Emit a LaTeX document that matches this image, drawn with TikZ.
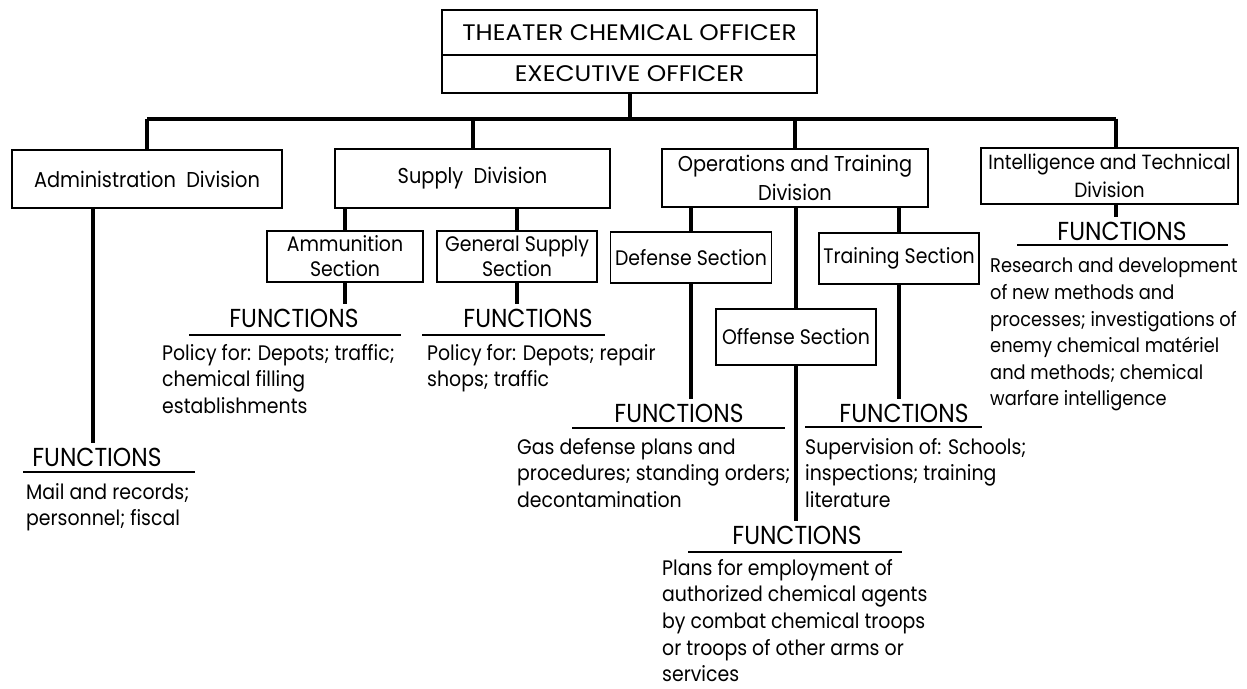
\documentclass[tikz,border=0pt]{standalone}
\usepackage{fontspec}
\setmainfont[FakeStretch=0.9]{Poppins}
\newfontfamily\capsfont[FakeStretch=1.1]{Poppins}
\newcommand{\fz}[2]{\fontsize{#1}{#2}\selectfont}
\begin{document}
\begin{tikzpicture}[x=1pt,y=-1pt,
  box/.style={draw, line width=1.6pt, inner sep=0pt, align=center},
  conn/.style={line width=4pt},
  ul/.style={line width=1.8pt},
  fn/.style={inner sep=0pt, outer ysep=5pt, font=\fz{26}{26}},
  body/.style={inner sep=0pt, align=left, anchor=north west, font=\fz{21}{26.6}},
  divtext/.style={font=\fz{21.5}{28.5}},
  sectext/.style={font=\fz{21}{25}}]
\useasboundingbox (0,0) rectangle (1247,688);
% top
\node[box, minimum width=375pt, minimum height=45pt, font=\capsfont\fz{22.5}{24}] (tco) at (629.5,32.5) {THEATER CHEMICAL OFFICER};
\node[box, minimum width=375pt, minimum height=38pt, font=\capsfont\fz{22.5}{24}] (exec) at (629.5,74) {EXECUTIVE OFFICER};
% divisions
\node[box, divtext, minimum width=270pt, minimum height=58pt] (adm) at (147,179) {Administration\ \ Division};
\node[box, divtext, minimum width=275pt, minimum height=59pt] (sup) at (472.5,178.5) {Supply\ \ Division};
\node[box, divtext, minimum width=266pt, minimum height=58pt] (ops) at (795,178) {Operations and Training\\Division};
\node[box, minimum width=257pt, minimum height=56pt, font=\fz{20.5}{28.5}] (int) at (1109.5,176) {Intelligence and Technical\\Division};
% sections
\node[box, sectext, minimum width=156pt, minimum height=51pt] (amm) at (345,256.5) {Ammunition\\Section};
\node[box, sectext, minimum width=160pt, minimum height=51pt] (gen) at (517,256.5) {General Supply\\Section};
\node[box, sectext, minimum width=161pt, minimum height=51pt] (def) at (691,257.5) {Defense Section};
\node[box, sectext, minimum width=160pt, minimum height=51pt] (trn) at (899,258.5) {Training Section};
\node[box, sectext, minimum width=160pt, minimum height=56pt] (off) at (796,337) {Offense Section};
% helper coordinates
\coordinate (barY) at (0,118.5);
\coordinate (admX) at (93,0);
\coordinate (intX) at (1116,0);
% trunk and bar
\draw[conn] (exec.south) -- (exec.south |- barY);
\draw[conn] (adm.north |- barY) -- (intX |- barY);
\draw[conn] (adm.north |- barY) -- (adm.north);
\draw[conn] (sup.north |- barY) -- (sup.north);
\draw[conn] (ops.north |- barY) -- (ops.north);
\draw[conn] (intX |- barY) -- (intX |- int.north);
% FUNCTIONS headings
\node[fn] (fadm) at (97,457) {FUNCTIONS};
\node[fn] (famm) at (294,318) {FUNCTIONS};
\node[fn] (fgen) at (528,318) {FUNCTIONS};
\node[fn] (fdef) at (679,413) {FUNCTIONS};
\node[fn] (ftrn) at (904,413) {FUNCTIONS};
\node[fn] (foff) at (797,535) {FUNCTIONS};
\node[fn] (fint) at (1122,231) {FUNCTIONS};
% underlines
\draw[ul] (23,472) -- (195,472);
\draw[ul] (189,335) -- (401,335);
\draw[ul] (422,335) -- (605,335);
\draw[ul] (572,428) -- (785,428);
\draw[ul] (805,427) -- (982,427);
\draw[ul] (688,552) -- (902,552);
\draw[ul] (1017,245) -- (1228,245);
% lower connectors
\draw[conn] (adm.south -| admX) -- (fadm.north -| admX);
\draw[conn] (amm.north |- sup.south) -- (amm.north);
\draw[conn] (gen.north |- sup.south) -- (gen.north);
\draw[conn] (amm.south) -- (amm.south |- famm.north);
\draw[conn] (gen.south) -- (gen.south |- fgen.north);
\draw[conn] (def.north |- ops.south) -- (def.north);
\draw[conn] (trn.north |- ops.south) -- (trn.north);
\draw[conn] (off.north |- ops.south) -- (off.north);
\draw[conn] (def.south) -- (def.south |- fdef.north);
\draw[conn] (trn.south) -- (trn.south |- ftrn.north);
\draw[conn] (off.south) -- (off.south |- foff.north);
\draw[conn] (intX |- int.south) -- (intX |- fint.north);
% function texts
\node[body] (tadm) at (26,483) {Mail and records;\\personnel; fiscal};
\node[body] (tamm) at (162,344) {Policy for: Depots; traffic;\\chemical filling\\establishments};
\node[body] (tgen) at (427,344) {Policy for: Depots; repair\\shops; traffic};
\node[body] (tdef) at (517,438) {Gas defense plans and\\procedures; standing orders;\\decontamination};
\node[body] (ttrn) at (805,438) {Supervision of: Schools;\\inspections; training\\literature};
\node[body] (toff) at (662,559) {Plans for employment of\\authorized chemical agents\\by combat chemical troops\\or troops of other arms or\\services};
\node[body, font=\fz{19.8}{26.6}] (tint) at (990,258) {Research and development\\of new methods and\\processes; investigations of\\enemy chemical matériel\\and methods; chemical\\warfare intelligence};
\end{tikzpicture}
\end{document}
